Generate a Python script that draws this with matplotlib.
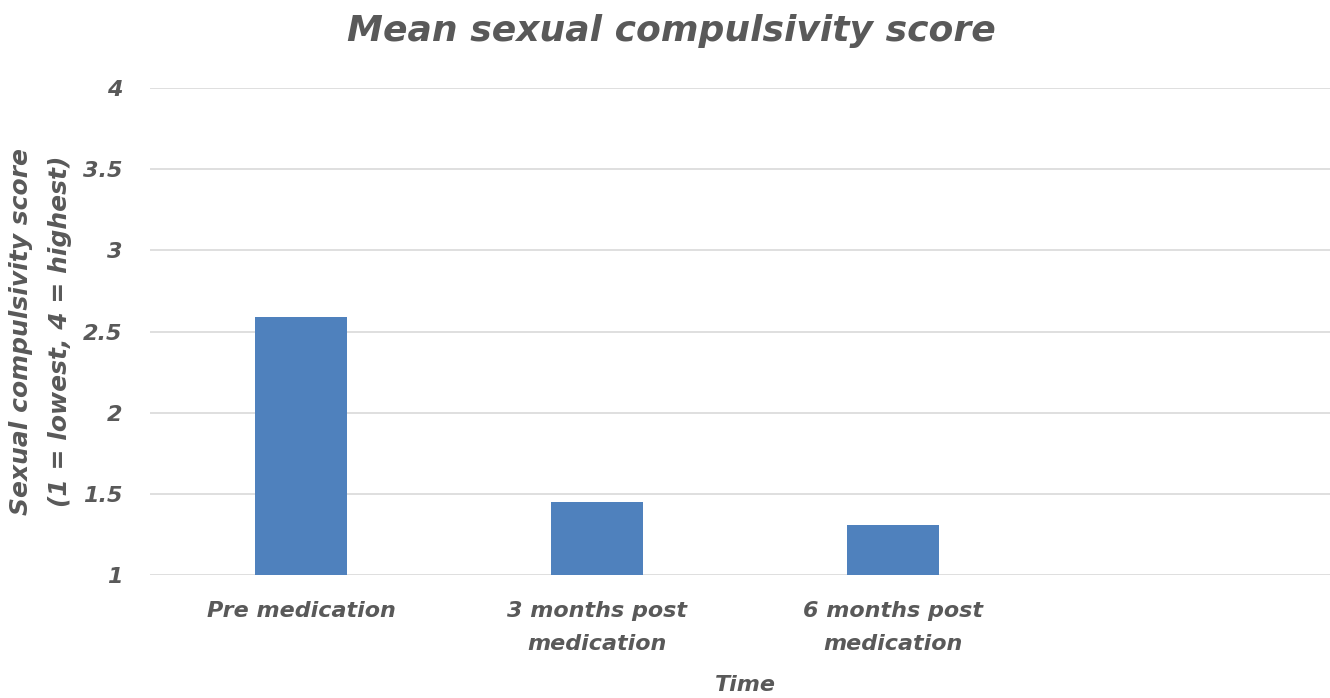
import matplotlib
matplotlib.use("Agg")
import matplotlib.pyplot as plt

plt.rcParams["font.family"] = ["DejaVu Sans"]

categories = ["Pre medication", "3 months post\nmedication", "6 months post\nmedication", ""]
values = [2.59, 1.45, 1.31, None]
yticks = [1, 1.5, 2, 2.5, 3, 3.5, 4]
ytick_labels = ["1", "1.5", "2", "2.5", "3", "3.5", "4"]

TEXT = "#595959"
BAR = "#4f81bd"

fig = plt.figure(figsize=(13.3, 6.98), dpi=100)
ax = fig.add_axes([0.1128, 0.1762, 0.8947, 0.6977])

xs = list(range(len(categories)))
bx = [x for x, v in zip(xs, values) if v is not None]
bv = [v for v in values if v is not None]
ax.bar(bx, bv, width=0.313, color=BAR, zorder=2)

ax.set_xlim(-0.51, len(categories) - 0.49)
ax.set_ylim(1, 4)
ax.set_yticks(yticks)
ax.set_yticklabels(ytick_labels)
ax.set_xticks(xs)
ax.set_xticklabels(categories, linespacing=1.8)

for s in ax.spines.values():
    s.set_visible(False)
ax.grid(axis="y", color="#d9d9d9", linewidth=1.2, zorder=0)
ax.tick_params(length=0, colors=TEXT)
ax.tick_params(axis="y", pad=20)
ax.tick_params(axis="x", pad=19)
for lab in ax.get_yticklabels() + ax.get_xticklabels():
    lab.set_fontweight("bold")
    lab.set_fontstyle("italic")
    lab.set_fontsize(16)
    lab.set_color(TEXT)

ax.set_title("Mean sexual compulsivity score", fontsize=26, fontweight="bold",
             fontstyle="italic", color=TEXT, pad=34, x=0.438)
ax.set_xlabel("Time", fontsize=16, fontweight="bold", fontstyle="italic",
              color=TEXT, labelpad=15, x=0.5)
ax.set_ylabel("Sexual compulsivity score\n(1 = lowest, 4 = highest)", fontsize=18,
              fontweight="bold", fontstyle="italic", color=TEXT, labelpad=8,
              linespacing=1.75)

fig.savefig("out.png", dpi=100)
